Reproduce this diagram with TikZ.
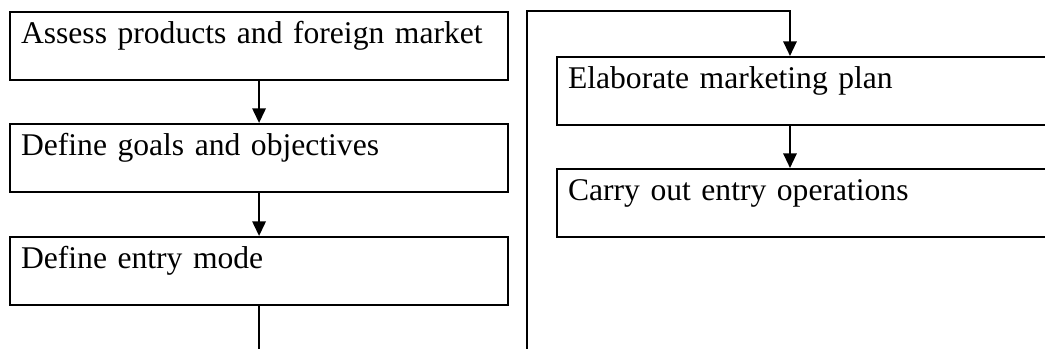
\documentclass[tikz,border=0pt]{standalone}
\usepackage{fontspec}
\setmainfont{Liberation Serif}
\usetikzlibrary{arrows.meta,calc}
\begin{document}
\begin{tikzpicture}[x=0.75pt, y=-0.75pt, line width=1.6pt, >={Triangle[length=11pt,width=10pt]},
  stage/.style={draw, anchor=north west, align=left, text width=357pt, inner xsep=8.25pt, inner ysep=0pt,
    text height=23.7pt, text depth=27.3pt, font=\fontsize{23.7pt}{28pt}\selectfont}]
  \clip (0,0) rectangle (1045,349);
  % 左の列
  \node[stage] (assess) at (9,11) {Assess products and foreign market};
  \node[stage] (goals) at (9,123) {Define goals and objectives};
  \node[stage] (mode) at (9,236) {Define entry mode};
  % 右の列
  \node[stage] (plan) at (556,56) {Elaborate marketing plan};
  \node[stage] (entry) at (556,168) {Carry out entry operations};
  % 矢印
  \draw[->] (assess.south) -- (goals.north);
  \draw[->] (goals.south) -- (mode.north);
  \coordinate (cut) at (258,355);
  \draw (mode.south) -- (mode.south |- cut);
  % 右の列へ戻る線
  \coordinate (ret) at (527,355);
  \coordinate (turn) at (527,11);
  \coordinate (in) at ($(plan.north west)+(234,0)$);
  \draw[->] (ret) -- (turn) -| (in);
  \draw[->] (in |- plan.south) -- (in |- entry.north);
\end{tikzpicture}
\end{document}
